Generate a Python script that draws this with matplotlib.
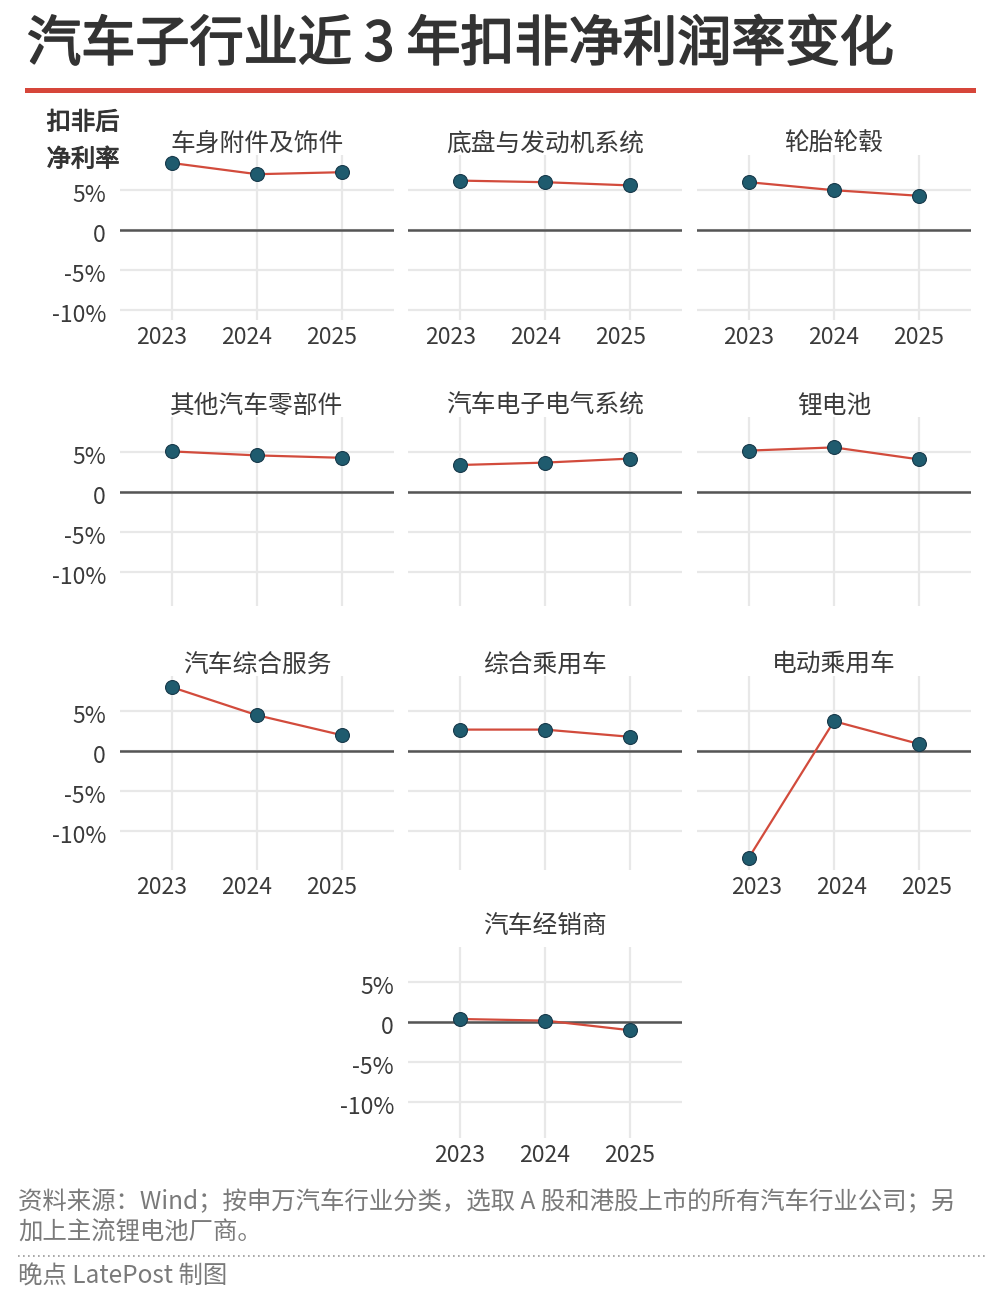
import numpy as np
import matplotlib.pyplot as plt
import matplotlib.transforms as mtransforms
import matplotlib.patheffects as pe
from matplotlib.lines import Line2D

plt.rcParams['font.family'] = ['Noto Sans CJK SC', 'DejaVu Sans']

# ========================
# DATA (扣非净利率, %)
# ========================
years = [2023, 2024, 2025]
year_labels = ["2023", "2024", "2025"]
ytick_vals = [-10, -5, 0, 5]
ytick_labels = ["-10%", "-5%", "0", "5%"]

industries = ["车身附件及饰件", "底盘与发动机系统", "轮胎轮毂",
              "其他汽车零部件", "汽车电子电气系统", "锂电池",
              "汽车综合服务", "综合乘用车", "电动乘用车",
              "汽车经销商"]

body_parts = [8.4, 7.0, 7.25]
chassis_engine = [6.2, 6.0, 5.6]
tyre_wheel = [6.0, 5.0, 4.3]
other_parts = [5.1, 4.6, 4.3]
electronics = [3.4, 3.7, 4.2]
lithium_battery = [5.2, 5.6, 4.1]
auto_services = [8.0, 4.5, 2.0]
passenger_cars = [2.7, 2.7, 1.8]
ev_cars = [-13.3, 3.75, 0.9]
dealers = [0.4, 0.2, -1.0]

series = [body_parts, chassis_engine, tyre_wheel,
          other_parts, electronics, lithium_battery,
          auto_services, passenger_cars, ev_cars,
          dealers]

# ========================
# LAYOUT (pixels)
# ========================
W, H = 1000, 1300
fig = plt.figure(figsize=(W / 100, H / 100), dpi=100)
fig.patch.set_facecolor("white")

col_left = [120, 408, 697]
col_width = 274
row_top = [155, 417, 676, 947]
row_ymin = [-11.25, -14.2, -14.9, -14.5]
ymax = 9.4
px_per_unit = 8

cells = [(0, 0), (0, 1), (0, 2),
         (1, 0), (1, 1), (1, 2),
         (2, 0), (2, 1), (2, 2),
         (3, 1)]
show_x = [True, True, True, False, False, False, True, False, True, True]
show_y = [True, False, False, True, False, False, True, False, False, True]
title_off = [8, 8, 8, 8, 8, 8, 8, 8, 8, 15]
# horizontal shift (px) of the year labels in each panel
xlab_shift = [-10, -9, 0, 0, 0, 0, -10, 0, 8, 0]

text_col = "#3a3a3a"
grid_col = "#e8e8e8"
line_col = "#d24b3c"
dot_col = "#1f5b6e"


def px_axes(left, top, width, height):
    return fig.add_axes([left / W, 1 - (top + height) / H, width / W, height / H])


for i, (name, vals) in enumerate(zip(industries, series)):
    r, c = cells[i]
    ymin = row_ymin[r]
    height = (ymax - ymin) * px_per_unit
    ax = px_axes(col_left[c], row_top[r], col_width, height)
    ax.set_xlim(2022.39, 2025.61)
    ax.set_ylim(ymin, ymax)
    for s in ax.spines.values():
        s.set_visible(False)
    ax.set_xticks(years)
    ax.set_xticklabels(year_labels)
    ax.set_yticks(ytick_vals)
    ax.set_yticklabels(ytick_labels)
    ax.tick_params(length=0, labelsize=16.5, labelcolor=text_col, pad=4)
    ax.tick_params(axis="y", pad=10)
    ax.tick_params(labelbottom=show_x[i], labelleft=show_y[i])
    for lab in ax.get_xticklabels():
        lab.set_transform(lab.get_transform() + mtransforms.ScaledTranslation(
            xlab_shift[i] / 100, 0, fig.dpi_scale_trans))
    for lab in ax.get_yticklabels():
        lab.set_transform(lab.get_transform() + mtransforms.ScaledTranslation(
            0, -3 / 100, fig.dpi_scale_trans))
    ax.grid(True, color=grid_col, lw=1.6, zorder=0)
    ax.set_axisbelow(True)
    ax.axhline(0, color="#555555", lw=1.8, zorder=1)
    ax.plot(years, vals, color=line_col, lw=1.6, zorder=2)
    ax.plot(years, vals, ls="none", marker="o", ms=10, mfc=dot_col,
            mec="#17394a", mew=0.8, zorder=3)
    ax.annotate(name, xy=(0.5, 1), xycoords="axes fraction",
                xytext=(0, title_off[i]), textcoords="offset points",
                ha="center", va="center", fontsize=17.8, color=text_col)

# ========================
# TITLE / LABELS / FOOTER
# ========================
fig.text(27 / W, 1 - 45 / H, "汽车子行业近 3 年扣非净利润率变化",
         fontsize=39, color="#333333", va="center", ha="left",
         path_effects=[pe.withStroke(linewidth=1.3, foreground="#333333")])
fig.add_artist(Line2D([27 / W, 973 / W], [1 - 90 / H, 1 - 90 / H],
                      color="#d6463a", lw=3.6))

fig.text(83 / W, 1 - 141 / H, "扣非后\n净利率", fontsize=17.5,
         color="#333333", ha="center", va="center", linespacing=1.55,
         path_effects=[pe.withStroke(linewidth=0.7, foreground="#333333")])

fig.text(18 / W, 1 - 1202 / H,
         "资料来源：Wind；按申万汽车行业分类，选取 A 股和港股上市的所有汽车行业公司；另",
         fontsize=17.6, color="#7a7a7a", ha="left", va="center")
fig.text(18 / W, 1 - 1232 / H, "加上主流锂电池厂商。",
         fontsize=17.6, color="#7a7a7a", ha="left", va="center")
fig.add_artist(Line2D([18 / W, 985 / W], [1 - 1256 / H, 1 - 1256 / H],
                      color="#9a9a9a", lw=1.2, ls=(0, (1, 2))))
fig.text(18 / W, 1 - 1277 / H, "晚点 LatePost 制图",
         fontsize=17.6, color="#7a7a7a", ha="left", va="center")

fig.savefig("out.png", dpi=100, facecolor="white")
